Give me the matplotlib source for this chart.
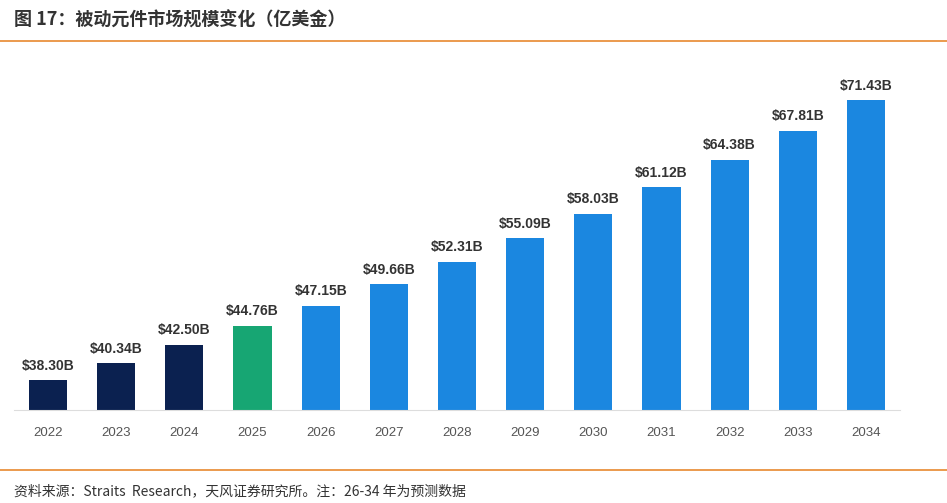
import matplotlib
matplotlib.use("Agg")
import matplotlib.pyplot as plt
from matplotlib.lines import Line2D

plt.rcParams['font.family'] = ['Noto Sans CJK SC', 'DejaVu Sans']

years = ['2022','2023','2024','2025','2026','2027','2028','2029','2030','2031','2032','2033','2034']
values = [38.30,40.34,42.50,44.76,47.15,49.66,52.31,55.09,58.03,61.12,64.38,67.81,71.43]
colors = ['#0b2150']*3 + ['#17a673'] + ['#1b87e0']*9

fig = plt.figure(figsize=(9.47,5.03), dpi=100)
ax = fig.add_axes([14/947, 1-410/503, 886/947, 350/503])
x = list(range(len(years)))
ax.bar(x, values, width=0.56, color=colors)
for xi, v in zip(x, values):
    ax.text(xi, v+0.9, f'${v:.2f}B', ha='center', va='bottom', fontsize=10, fontweight='bold', color='#333333', family='Liberation Sans')
ax.set_xlim(-0.5, 12.5)
ax.set_ylim(34.8, 76.2)
ax.set_xticks(x)
ax.set_xticklabels(years, fontsize=9.5, color='#555555', family='Liberation Sans')
ax.tick_params(axis='x', length=0, pad=12)
ax.set_yticks([])
for s in ['top','right','left']:
    ax.spines[s].set_visible(False)
ax.spines['bottom'].set_color('#dddddd')

fig.text(14/947, 1-20/503, '图 17：被动元件市场规模变化（亿美金）', fontsize=13, fontweight='bold', color='#333333', va='center')
fig.add_artist(Line2D([0,1],[1-41/503]*2, color='#e8892f', lw=1.2))
fig.add_artist(Line2D([0,1],[1-470/503]*2, color='#e8892f', lw=1.2))
fig.text(14/947, 1-491/503, '资料来源：Straits  Research，天风证券研究所。注：26-34 年为预测数据', fontsize=10, color='#333333', va='center')
fig.savefig('out.png', dpi=100)
